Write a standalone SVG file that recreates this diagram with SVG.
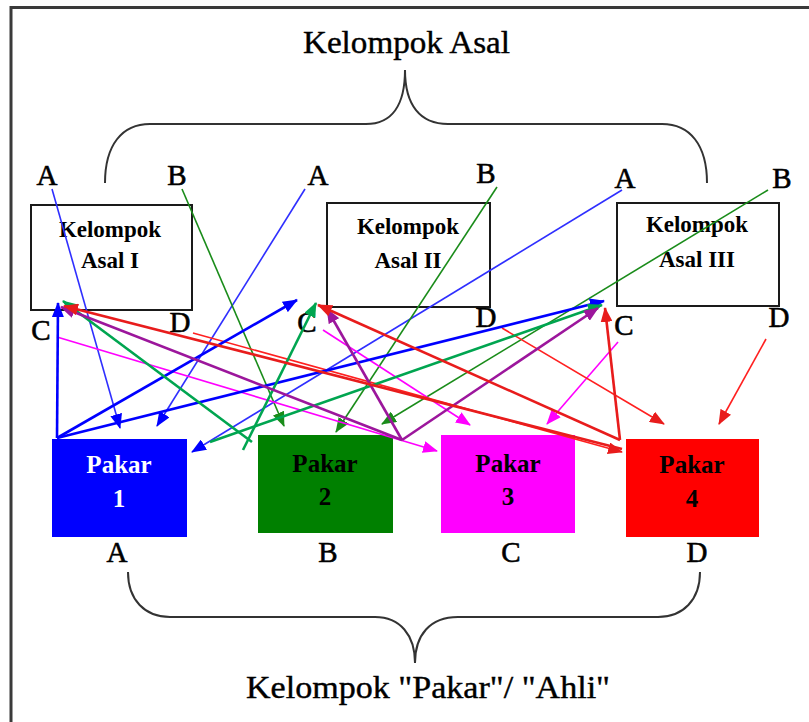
<svg xmlns="http://www.w3.org/2000/svg" width="809" height="722" viewBox="0 0 809 722">
<style>
text{font-family:"Liberation Serif","Times New Roman",serif;fill:#000}
.title{font-size:32px;stroke:#000;stroke-width:0.4}
.letter{font-size:29px;text-anchor:middle;stroke:#000;stroke-width:0.6}
.btxt{font-size:23px;font-weight:bold;text-anchor:middle}
.ptxt{font-size:25px;font-weight:bold;text-anchor:middle}
.box{fill:#fff;stroke:#1a1a1a;stroke-width:2}
.brace{fill:none;stroke:#333;stroke-width:2}
.thin{fill:none;stroke-width:1.6}
.thick{fill:none;stroke-width:2.6}
</style>
<defs>
<marker id="mb" markerUnits="userSpaceOnUse" markerWidth="15" markerHeight="12" refX="14" refY="6" orient="auto"><path d="M0,0 L15,6 L0,12 z" fill="#0000ff"/></marker>
<marker id="mgt" markerUnits="userSpaceOnUse" markerWidth="15" markerHeight="12" refX="14" refY="6" orient="auto"><path d="M0,0 L15,6 L0,12 z" fill="#1a8c1a"/></marker>
<marker id="mg" markerUnits="userSpaceOnUse" markerWidth="15" markerHeight="12" refX="14" refY="6" orient="auto"><path d="M0,0 L15,6 L0,12 z" fill="#00a550"/></marker>
<marker id="mm" markerUnits="userSpaceOnUse" markerWidth="15" markerHeight="12" refX="14" refY="6" orient="auto"><path d="M0,0 L15,6 L0,12 z" fill="#ff00ff"/></marker>
<marker id="mp" markerUnits="userSpaceOnUse" markerWidth="15" markerHeight="12" refX="14" refY="6" orient="auto"><path d="M0,0 L15,6 L0,12 z" fill="#9c169c"/></marker>
<marker id="mr" markerUnits="userSpaceOnUse" markerWidth="15" markerHeight="12" refX="14" refY="6" orient="auto"><path d="M0,0 L15,6 L0,12 z" fill="#e81c1c"/></marker>
</defs>
<rect x="0" y="0" width="809" height="722" fill="#fff"/>
<path d="M11,722 L11,7.5 L809,7.5" fill="none" stroke="#3a3a3a" stroke-width="3"/>

<g id="title-asal">
<text class="title" x="303" y="53" textLength="207" lengthAdjust="spacingAndGlyphs">Kelompok Asal</text>
<path class="brace" d="M105,183 C105,145 122,124 150,124 L366,124 C392,124 405,105 405,70 C405,105 420,124 448,124 L662,124 C690,124 707,145 707,183"/>
</g>

<g id="asal-1">
<rect class="box" x="31" y="205" width="161" height="105"/>
<text class="btxt" x="110" y="237">Kelompok</text>
<text class="btxt" x="110" y="268">Asal I</text>
<text class="letter" x="47" y="185">A</text>
<text class="letter" x="177" y="185">B</text>
<text class="letter" x="41" y="340">C</text>
<text class="letter" x="180" y="332">D</text>
</g>

<g id="asal-2">
<rect class="box" x="327" y="203" width="163" height="104"/>
<text class="btxt" x="408" y="234">Kelompok</text>
<text class="btxt" x="408" y="268">Asal II</text>
<text class="letter" x="318" y="185">A</text>
<text class="letter" x="486" y="183">B</text>
<text class="letter" x="307" y="332">C</text>
<text class="letter" x="486" y="327">D</text>
</g>

<g id="asal-3">
<rect class="box" x="617" y="203" width="162" height="103"/>
<text class="btxt" x="697" y="232">Kelompok</text>
<text class="btxt" x="697" y="267">Asal III</text>
<text class="letter" x="625" y="188">A</text>
<text class="letter" x="782" y="188">B</text>
<text class="letter" x="624" y="335">C</text>
<text class="letter" x="779" y="327">D</text>
</g>

<g id="pakar-1">
<rect x="52" y="439" width="135" height="98" fill="#0000ff"/>
<text class="ptxt" x="119" y="473" style="fill:#fff">Pakar</text>
<text class="ptxt" x="119" y="507" style="fill:#fff">1</text>
<text class="letter" x="117" y="562">A</text>
</g>

<g id="pakar-2">
<rect x="258" y="435" width="135" height="98" fill="#008000"/>
<text class="ptxt" x="325" y="472">Pakar</text>
<text class="ptxt" x="325" y="505">2</text>
<text class="letter" x="328" y="562">B</text>
</g>

<g id="pakar-3">
<rect x="441" y="435" width="134" height="98" fill="#ff00ff"/>
<text class="ptxt" x="508" y="472">Pakar</text>
<text class="ptxt" x="508" y="505">3</text>
<text class="letter" x="511" y="562">C</text>
</g>

<g id="pakar-4">
<rect x="626" y="439" width="133" height="98" fill="#ff0000"/>
<text class="ptxt" x="692" y="473">Pakar</text>
<text class="ptxt" x="692" y="507">4</text>
<text class="letter" x="697" y="562">D</text>
</g>

<g id="title-pakar">
<path class="brace" d="M128,572 C128,600 145,617 170,617 L375,617 C400,617 415,635 415,663 C415,635 430,617 458,617 L658,617 C683,617 700,600 700,572"/>
<text class="title" x="246" y="698" textLength="364" lengthAdjust="spacingAndGlyphs">Kelompok "Pakar"/ "Ahli"</text>
</g>

<g id="connectors">
<line class="thin" x1="52" y1="189" x2="120" y2="428" stroke="#2f2fff" marker-end="url(#mb)"/>
<line class="thin" x1="305" y1="189" x2="157" y2="426" stroke="#2f2fff" marker-end="url(#mb)"/>
<line class="thin" x1="622" y1="190" x2="192" y2="452" stroke="#2f2fff" marker-end="url(#mb)"/>
<line class="thin" x1="182" y1="189" x2="284" y2="426" stroke="#1a8c1a" marker-end="url(#mgt)"/>
<line class="thin" x1="497" y1="187" x2="336" y2="432" stroke="#1a8c1a" marker-end="url(#mgt)"/>
<line class="thin" x1="768" y1="190" x2="382" y2="424" stroke="#1a8c1a" marker-end="url(#mgt)"/>
<line class="thin" x1="57" y1="337" x2="437" y2="451" stroke="#ff00ff" marker-end="url(#mm)"/>
<line class="thin" x1="323" y1="330" x2="470" y2="425" stroke="#ff00ff" marker-end="url(#mm)"/>
<line class="thin" x1="618" y1="342" x2="547" y2="424" stroke="#ff00ff" marker-end="url(#mm)"/>
<line class="thin" x1="193" y1="333" x2="622" y2="452" stroke="#ff2020" marker-end="url(#mr)"/>
<line class="thin" x1="502" y1="328" x2="664" y2="424" stroke="#ff2020" marker-end="url(#mr)"/>
<line class="thin" x1="766" y1="339" x2="719" y2="424" stroke="#ff2020" marker-end="url(#mr)"/>

<line class="thick" x1="57" y1="438" x2="58" y2="303" stroke="#0000ff" marker-end="url(#mb)"/>
<line class="thick" x1="57" y1="438" x2="297" y2="300" stroke="#0000ff" marker-end="url(#mb)"/>
<line class="thick" x1="57" y1="438" x2="604" y2="301" stroke="#0000ff" marker-end="url(#mb)"/>
<line class="thick" x1="252" y1="442" x2="63" y2="301" stroke="#00a550" marker-end="url(#mg)"/>
<line class="thick" x1="243" y1="450" x2="316" y2="303" stroke="#00a550" marker-end="url(#mg)"/>
<line class="thick" x1="210" y1="442" x2="602" y2="305" stroke="#00a550" marker-end="url(#mg)"/>
<line class="thick" x1="402" y1="440" x2="61" y2="307" stroke="#9c169c" marker-end="url(#mp)"/>
<line class="thick" x1="402" y1="440" x2="327" y2="309" stroke="#9c169c" marker-end="url(#mp)"/>
<line class="thick" x1="402" y1="440" x2="598" y2="308" stroke="#9c169c" marker-end="url(#mp)"/>
<line class="thick" x1="622" y1="449" x2="64" y2="306" stroke="#e81c1c" marker-end="url(#mr)"/>
<line class="thick" x1="620" y1="440" x2="318" y2="305" stroke="#e81c1c" marker-end="url(#mr)"/>
<line class="thick" x1="620" y1="440" x2="605" y2="308" stroke="#e81c1c" marker-end="url(#mr)"/>
</g>
</svg>
